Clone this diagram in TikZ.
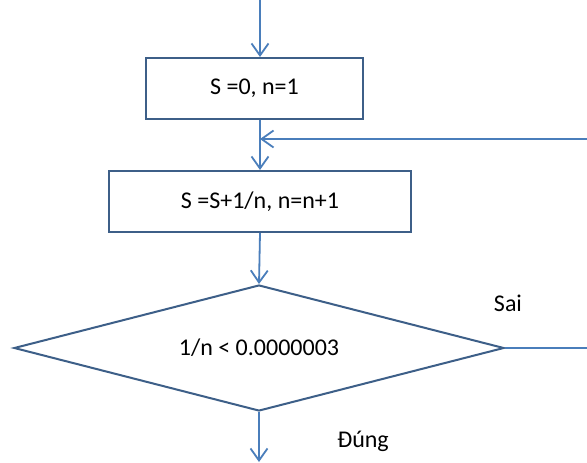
\documentclass[tikz,border=0pt]{standalone}
\usepackage{fontspec}
\setmainfont{Carlito}
\usetikzlibrary{arrows.meta,shapes.geometric}
\definecolor{lineblue}{HTML}{4A7EBB}
\definecolor{edgeblue}{HTML}{3D5F88}
\tikzset{
  bigtext/.style={font=\fontsize{24}{26}\selectfont},
  procbox/.style={draw=edgeblue, line width=2pt, minimum height=61pt, inner sep=0pt, bigtext},
  testbox/.style={diamond, draw=edgeblue, line width=2pt, minimum width=490pt, minimum height=126pt, inner sep=0pt},
  flow/.style={draw=lineblue, line width=1.8pt, -{Straight Barb[length=12pt,width=17pt,line width=1.8pt]}},
  link/.style={draw=lineblue, line width=1.8pt},
  tag/.style={bigtext}
}
\begin{document}
\begin{tikzpicture}[x=1pt,y=-1pt]
  \clip (0,0) rectangle (587,463);
  \fill[white] (0,0) rectangle (587,463);

  % boxes of the flowchart
  \node[procbox, minimum width=217pt] (init) at (254.5,88.5) {S =0, n=1};
  \node[procbox, minimum width=302pt] (update) at (260,201.5) {S =S+1/n, n=n+1};
  \node[testbox] (test) at (259,348) {};
  \node[bigtext] (cond) at (test.center) {1/n < 0.0000003};

  % branch labels
  \node[tag] (no) at (508,303) {Sai};
  \node[tag] (yes) at (363,441) {Đúng};

  % helper points for the free ends
  \coordinate (start) at (260,0);
  \coordinate (join) at (260,139);
  \coordinate (right) at (600,348);
  \coordinate (finish) at (259,462);

  % connectors
  \draw[flow] (start) -- (start |- init.north);
  \draw[flow] (update.north |- init.south) -- (update.north);
  \draw[flow] (update.south) -- (test.north);
  \draw[flow] (test.south) -- (finish);
  \draw[link] (test.east) -- (right) -- (right |- join);
  \draw[flow] (right |- join) -- (join);
\end{tikzpicture}
\end{document}
